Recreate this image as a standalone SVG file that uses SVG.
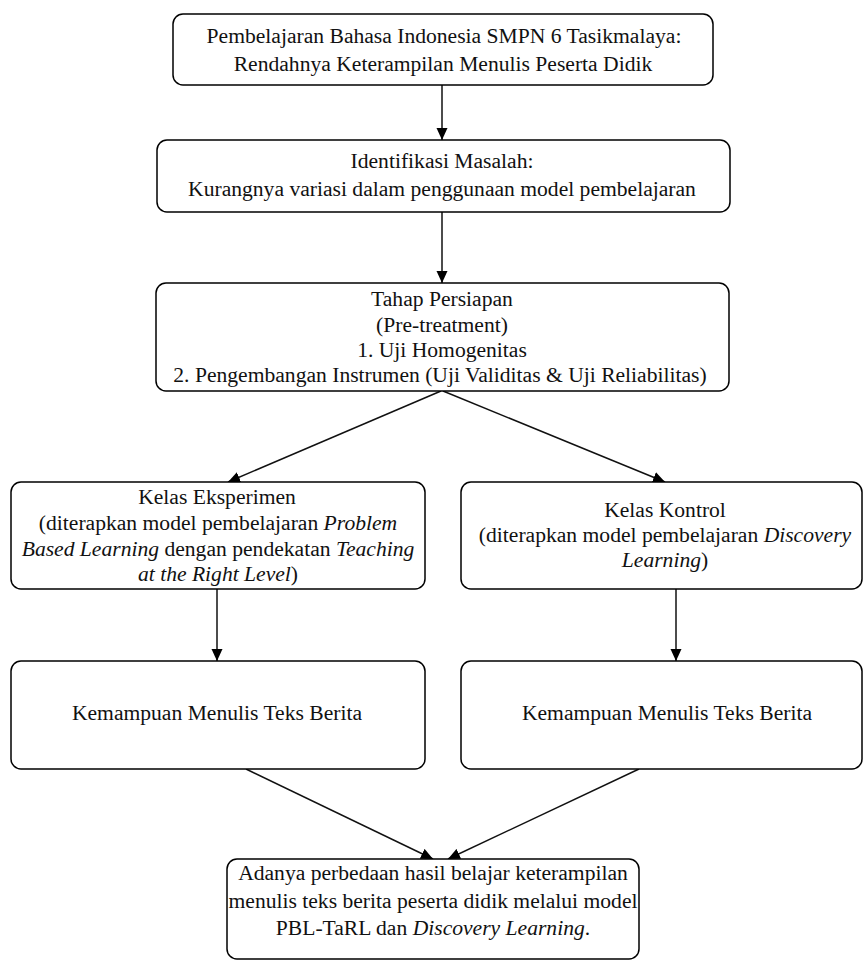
<svg xmlns="http://www.w3.org/2000/svg" width="864" height="961" viewBox="0 0 864 961">
<style>
.box{fill:#fff;stroke:#000;stroke-width:1.5}
.t{font-family:"Liberation Serif","Times New Roman",serif;font-size:21.6px;fill:#111;text-anchor:middle}
.i{font-style:italic}
.c{stroke:#111;stroke-width:1.5;fill:none;marker-end:url(#ah)}
</style>
<defs>
<marker id="ah" markerUnits="userSpaceOnUse" markerWidth="12" markerHeight="12" viewBox="0 0 12 12" refX="12" refY="6" orient="auto">
<path d="M0,0.5 L12,6 L0,11.5 z" fill="#000"/>
</marker>
</defs>
<rect width="864" height="961" fill="#fff"/>
<g id="connectors">
<line class="c" x1="442" y1="85" x2="442" y2="140"/>
<line class="c" x1="442" y1="212" x2="442" y2="283"/>
<line class="c" x1="441" y1="391" x2="228" y2="482"/>
<line class="c" x1="443" y1="391" x2="665" y2="482"/>
<line class="c" x1="217" y1="589" x2="217" y2="661"/>
<line class="c" x1="676" y1="589" x2="676" y2="661"/>
<line class="c" x1="246" y1="769" x2="433" y2="859"/>
<line class="c" x1="639" y1="769" x2="448" y2="859"/>
</g>
<g id="n1">
<rect class="box" x="173" y="14" width="540" height="71" rx="10"/>
<text class="t" x="444" y="43">Pembelajaran Bahasa Indonesia SMPN 6 Tasikmalaya:</text>
<text class="t" x="443" y="71">Rendahnya Keterampilan Menulis Peserta Didik</text>
</g>
<g id="n2">
<rect class="box" x="157" y="140" width="573" height="72" rx="10"/>
<text class="t" x="442" y="168">Identifikasi Masalah:</text>
<text class="t" x="442" y="196">Kurangnya variasi dalam penggunaan model pembelajaran</text>
</g>
<g id="n3">
<rect class="box" x="156" y="283" width="573" height="108" rx="10"/>
<text class="t" x="442" y="306">Tahap Persiapan</text>
<text class="t" x="442" y="332">(Pre-treatment)</text>
<text class="t" x="442" y="357">1. Uji Homogenitas</text>
<text class="t" x="440" y="382">2. Pengembangan Instrumen (Uji Validitas &amp; Uji Reliabilitas)</text>
</g>
<g id="n4">
<rect class="box" x="11" y="482" width="414" height="107" rx="10"/>
<text class="t" x="217" y="504">Kelas Eksperimen</text>
<text class="t" x="218" y="530">(diterapkan model pembelajaran <tspan class="i">Problem</tspan></text>
<text class="t" x="218" y="556"><tspan class="i">Based Learning</tspan> dengan pendekatan <tspan class="i">Teaching</tspan></text>
<text class="t" x="218" y="581"><tspan class="i">at the Right Level</tspan>)</text>
</g>
<g id="n5">
<rect class="box" x="461" y="482" width="401" height="107" rx="10"/>
<text class="t" x="665" y="517">Kelas Kontrol</text>
<text class="t" x="665" y="542">(diterapkan model pembelajaran <tspan class="i">Discovery</tspan></text>
<text class="t" x="665" y="567"><tspan class="i">Learning</tspan>)</text>
</g>
<g id="n6">
<rect class="box" x="11" y="661" width="414" height="108" rx="10"/>
<text class="t" x="217" y="720">Kemampuan Menulis Teks Berita</text>
</g>
<g id="n7">
<rect class="box" x="461" y="661" width="401" height="108" rx="10"/>
<text class="t" x="667" y="720">Kemampuan Menulis Teks Berita</text>
</g>
<g id="n8">
<rect class="box" x="227" y="859" width="412" height="100" rx="10"/>
<text class="t" x="433" y="880">Adanya perbedaan hasil belajar keterampilan</text>
<text class="t" x="433" y="908">menulis teks berita peserta didik melalui model</text>
<text class="t" x="433" y="935">PBL-TaRL dan <tspan class="i">Discovery Learning</tspan>.</text>
</g>
</svg>
